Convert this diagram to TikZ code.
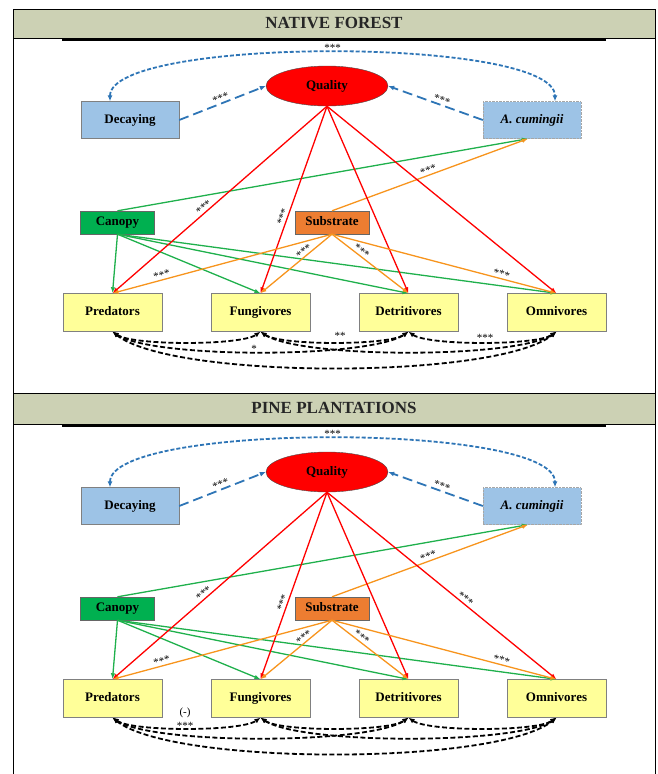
\documentclass[tikz,border=0pt]{standalone}
\usepackage{fontspec}
\setmainfont{Liberation Serif}
\usetikzlibrary{arrows.meta,shapes.geometric}
\definecolor{hdr}{HTML}{CCD1B4}
\definecolor{lblue}{HTML}{9DC3E6}
\definecolor{yelo}{HTML}{FFFF99}
\definecolor{cgrn}{HTML}{00B050}
\definecolor{corg}{HTML}{ED7D31}
\definecolor{lgrn}{HTML}{1FB04C}
\definecolor{lorg}{HTML}{F7941D}
\definecolor{lblu}{HTML}{2E75B6}

\begin{document}
\begin{tikzpicture}[x=1pt,y=-1pt,
  lbl/.style={font=\fontsize{13}{15}\selectfont\bfseries,inner sep=0pt,text height=9pt,text depth=3pt},
  hdtx/.style={font=\fontsize{17}{20}\selectfont\bfseries,text=black!85},
  trop/.style={lbl,draw=gray,fill=yelo,minimum width=99pt,minimum height=38pt},
  prox/.style={lbl,draw=gray,fill=lblue,minimum width=98pt,minimum height=37pt},
  envi/.style={lbl,draw=black!60,minimum width=74pt,minimum height=23pt},
  qual/.style={lbl,ellipse,draw=black!70,fill=red,minimum width=122pt,minimum height=40pt},
  stars/.style={font=\fontsize{11}{11}\selectfont,text=black,inner sep=0.5pt,sloped,above},
  starn/.style={font=\fontsize{11}{11}\selectfont,text=black,inner sep=0.5pt},
  redl/.style={red,line width=1.3pt,-{Latex[length=6pt,width=4.5pt]}},
  grnl/.style={lgrn,line width=1.3pt,-{Latex[length=6pt,width=4.5pt]}},
  orgl/.style={lorg,line width=1.3pt,-{Latex[length=6pt,width=4.5pt]}},
  bluel/.style={lblu,line width=1.8pt,dash pattern=on 10pt off 5pt,-{Latex[length=6pt,width=5pt]}},
  bluec/.style={lblu,line width=1.8pt,dash pattern=on 4pt off 2pt,{Latex[length=6pt,width=5pt]}-{Latex[length=6pt,width=5pt]}},
  covl/.style={black,line width=1.8pt,dash pattern=on 5pt off 2.5pt,{Latex[length=6pt,width=5pt]}-{Latex[length=6pt,width=5pt]}}]
\useasboundingbox (0,0) rectangle (657,774);
% table frame
\fill[hdr] (13,9) rectangle (655,38);\fill[hdr] (13,393) rectangle (655,424);
\draw[line width=1pt] (13,774)--(13,9)--(655,9)--(655,774);\draw (13,38)--(655,38);\draw (13,393)--(655,393);\draw (13,424)--(655,424);
\draw[line width=2pt] (62,40)--(606,40);\draw[line width=2pt] (62,426)--(606,426);
\node[hdtx] (titla) at (334,23){NATIVE FOREST};\node[hdtx] (titlb) at (334,408){PINE PLANTATIONS};

% native forest
\node[qual] (quala) at (327,86){Quality};
\node[prox] (decaa) at (130,120){Decaying};\node[prox,draw=gray!70,densely dotted] (acuma) at (532,120){\itshape A. cumingii};
\node[envi,fill=cgrn] (canoa) at (117.5,222.5){Canopy};\node[envi,fill=corg] (subsa) at (332,222.5){Substrate};
\node[trop] (preda) at (112.5,312.5){Predators};\node[trop] (funga) at (260.5,312.5){Fungivores};
\node[trop] (detra) at (408.5,312.5){Detritivores};\node[trop] (omnia) at (556.5,312.5){Omnivores};
\draw[bluel] (decaa.east)--(quala.west) node[stars,pos=.5]{***};\draw[bluel] (acuma.west)--(quala.east) node[stars,pos=.45]{***};
\draw[bluec] ([xshift=-20pt]decaa.north) .. controls +(0,-65) and +(0,-65) .. ([xshift=23pt]acuma.north) node[starn,midway,above]{***};
\draw[grnl] (canoa.north)--([xshift=-4pt]acuma.south);\draw[orgl] (subsa.north)--([xshift=-4pt]acuma.south) node[stars,pos=.5]{***};
\draw[grnl] (canoa.south)--(preda.north);\draw[grnl] (canoa.south)--(funga.north);\draw[grnl] (canoa.south)--(detra.north);\draw[grnl] (canoa.south)--(omnia.north);
\draw[redl] (quala.south)--(preda.north) node[stars,pos=.56]{***};\draw[redl] (quala.south)--(funga.north) node[stars,pos=.6]{***};
\draw[redl] (quala.south)--(detra.north);\draw[redl] (quala.south)--(omnia.north);
\draw[orgl] (subsa.south)--(preda.north) node[stars,pos=.77]{***};\draw[orgl] (subsa.south)--(funga.north) node[stars,pos=.35]{***};
\draw[orgl] (subsa.south)--(detra.north) node[stars,pos=.35]{***};\draw[orgl] (subsa.south)--(omnia.north) node[stars,pos=.75]{***};
\draw[covl] (preda.south) .. controls +(20,14) and +(-20,14) .. (funga.south);\draw[covl] (funga.south) .. controls +(20,14) and +(-20,14) .. (detra.south);
\draw[covl] (detra.south) .. controls +(20,14) and +(-20,14) .. (omnia.south);\draw[covl] (preda.south) .. controls +(40,27) and +(-40,27) .. (detra.south);
\draw[covl] (funga.south) .. controls +(40,27) and +(-40,27) .. (omnia.south);\draw[covl] (preda.south) .. controls +(60,48) and +(-60,48) .. (omnia.south);
\node[starn] (sfda) at (340,336){**};\node[starn] (sdoa) at (485,338){***};\node[starn] (spda) at (254,349){*};

% pine plantations
\node[qual] (qualb) at (327,472){Quality};
\node[prox] (decab) at (130,506){Decaying};\node[prox,draw=gray!70,densely dotted] (acumb) at (532,506){\itshape A. cumingii};
\node[envi,fill=cgrn] (canob) at (117.5,608.5){Canopy};\node[envi,fill=corg] (subsb) at (332,608.5){Substrate};
\node[trop] (predb) at (112.5,698.5){Predators};\node[trop] (fungb) at (260.5,698.5){Fungivores};
\node[trop] (detrb) at (408.5,698.5){Detritivores};\node[trop] (omnib) at (556.5,698.5){Omnivores};
\draw[bluel] (decab.east)--(qualb.west) node[stars,pos=.5]{***};\draw[bluel] (acumb.west)--(qualb.east) node[stars,pos=.45]{***};
\draw[bluec] ([xshift=-20pt]decab.north) .. controls +(0,-65) and +(0,-65) .. ([xshift=23pt]acumb.north) node[starn,midway,above]{***};
\draw[grnl] (canob.north)--([xshift=-4pt]acumb.south);\draw[orgl] (subsb.north)--([xshift=-4pt]acumb.south) node[stars,pos=.5]{***};
\draw[grnl] (canob.south)--(predb.north);\draw[grnl] (canob.south)--(fungb.north);\draw[grnl] (canob.south)--(detrb.north);\draw[grnl] (canob.south)--(omnib.north);
\draw[redl] (qualb.south)--(predb.north) node[stars,pos=.56]{***};\draw[redl] (qualb.south)--(fungb.north) node[stars,pos=.6]{***};
\draw[redl] (qualb.south)--(detrb.north);\draw[redl] (qualb.south)--(omnib.north) node[stars,pos=.59]{***};
\draw[orgl] (subsb.south)--(predb.north) node[stars,pos=.77]{***};\draw[orgl] (subsb.south)--(fungb.north) node[stars,pos=.35]{***};
\draw[orgl] (subsb.south)--(detrb.north) node[stars,pos=.35]{***};\draw[orgl] (subsb.south)--(omnib.north) node[stars,pos=.75]{***};
\draw[covl] (predb.south) .. controls +(20,14) and +(-20,14) .. (fungb.south);\draw[covl] (fungb.south) .. controls +(20,14) and +(-20,14) .. (detrb.south);
\draw[covl] (detrb.south) .. controls +(20,14) and +(-20,14) .. (omnib.south);\draw[covl] (predb.south) .. controls +(40,27) and +(-40,27) .. (detrb.south);
\draw[covl] (fungb.south) .. controls +(40,27) and +(-40,27) .. (omnib.south);\draw[covl] (predb.south) .. controls +(60,48) and +(-60,48) .. (omnib.south);
\node[starn] (sngb) at (185,713){(-)};\node[starn] (spfb) at (185,726){***};
\end{tikzpicture}
\end{document}
